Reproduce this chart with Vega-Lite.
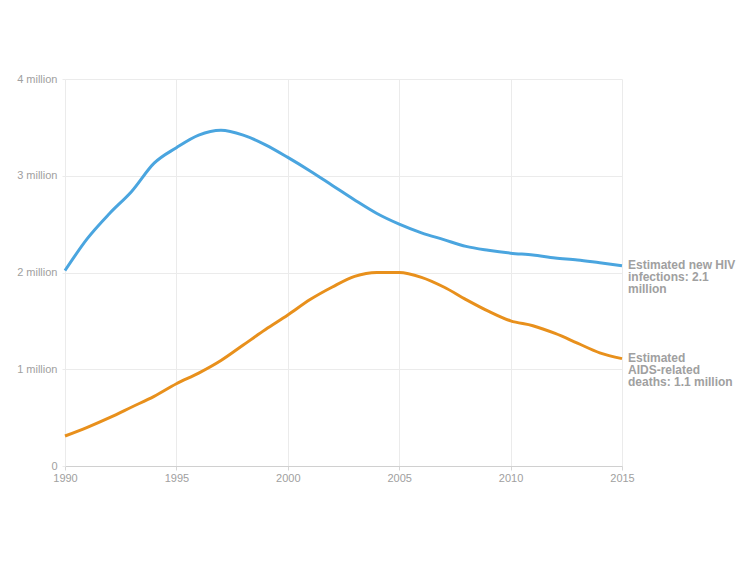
{
  "$schema": "https://vega.github.io/schema/vega-lite/v6.json",
  "width": 557,
  "height": 387,
  "autosize": {"type": "none"},
  "padding": {"left": 65, "top": 79, "right": 128, "bottom": 97},
  "background": "white",
  "config": {
    "view": {"stroke": null},
    "font": "Liberation Sans",
    "axis": {
      "labelFont": "Liberation Sans",
      "labelFontSize": 11,
      "labelColor": "#a0a0a0",
      "gridColor": "#ebebeb",
      "gridWidth": 1,
      "domain": false,
      "tickColor": "#d6d6d6",
      "title": null
    }
  },
  "data": {
    "values": [
      {"year": 1990, "series": "hiv", "value": 2.02},
      {"year": 1991, "series": "hiv", "value": 2.35},
      {"year": 1992, "series": "hiv", "value": 2.61},
      {"year": 1993, "series": "hiv", "value": 2.84},
      {"year": 1994, "series": "hiv", "value": 3.13},
      {"year": 1995, "series": "hiv", "value": 3.29},
      {"year": 1996, "series": "hiv", "value": 3.42},
      {"year": 1997, "series": "hiv", "value": 3.47},
      {"year": 1998, "series": "hiv", "value": 3.42},
      {"year": 1999, "series": "hiv", "value": 3.32},
      {"year": 2000, "series": "hiv", "value": 3.19},
      {"year": 2001, "series": "hiv", "value": 3.05},
      {"year": 2002, "series": "hiv", "value": 2.9},
      {"year": 2003, "series": "hiv", "value": 2.75},
      {"year": 2004, "series": "hiv", "value": 2.61},
      {"year": 2005, "series": "hiv", "value": 2.5},
      {"year": 2006, "series": "hiv", "value": 2.41},
      {"year": 2007, "series": "hiv", "value": 2.34},
      {"year": 2008, "series": "hiv", "value": 2.27},
      {"year": 2009, "series": "hiv", "value": 2.23},
      {"year": 2010, "series": "hiv", "value": 2.2},
      {"year": 2011, "series": "hiv", "value": 2.18},
      {"year": 2012, "series": "hiv", "value": 2.15},
      {"year": 2013, "series": "hiv", "value": 2.13},
      {"year": 2014, "series": "hiv", "value": 2.1},
      {"year": 2015, "series": "hiv", "value": 2.07},
      {"year": 1990, "series": "aids", "value": 0.31},
      {"year": 1991, "series": "aids", "value": 0.4},
      {"year": 1992, "series": "aids", "value": 0.5},
      {"year": 1993, "series": "aids", "value": 0.61},
      {"year": 1994, "series": "aids", "value": 0.72},
      {"year": 1995, "series": "aids", "value": 0.85},
      {"year": 1996, "series": "aids", "value": 0.96},
      {"year": 1997, "series": "aids", "value": 1.09},
      {"year": 1998, "series": "aids", "value": 1.25},
      {"year": 1999, "series": "aids", "value": 1.41},
      {"year": 2000, "series": "aids", "value": 1.56},
      {"year": 2001, "series": "aids", "value": 1.72},
      {"year": 2002, "series": "aids", "value": 1.85},
      {"year": 2003, "series": "aids", "value": 1.96},
      {"year": 2004, "series": "aids", "value": 2.0},
      {"year": 2005, "series": "aids", "value": 2.0},
      {"year": 2006, "series": "aids", "value": 1.95},
      {"year": 2007, "series": "aids", "value": 1.85},
      {"year": 2008, "series": "aids", "value": 1.72},
      {"year": 2009, "series": "aids", "value": 1.6},
      {"year": 2010, "series": "aids", "value": 1.5},
      {"year": 2011, "series": "aids", "value": 1.45},
      {"year": 2012, "series": "aids", "value": 1.37},
      {"year": 2013, "series": "aids", "value": 1.27},
      {"year": 2014, "series": "aids", "value": 1.17},
      {"year": 2015, "series": "aids", "value": 1.11}
    ]
  },
  "encoding": {
    "x": {
      "field": "year",
      "type": "quantitative",
      "scale": {"domain": [1990, 2015], "nice": false, "zero": false},
      "axis": {
        "values": [1990, 1995, 2000, 2005, 2010, 2015],
        "format": "d",
        "tickSize": 4,
        "labelPadding": 2,
        "labelFlush": false,
        "domain": true,
        "domainColor": "#d0d0d0"
      }
    },
    "y": {
      "field": "value",
      "type": "quantitative",
      "scale": {"domain": [0, 4], "nice": false},
      "axis": {
        "values": [0, 1, 2, 3, 4],
        "labelExpr": "datum.value == 0 ? '0' : datum.value + ' million'",
        "tickSize": 3,
        "tickColor": "#ebebeb",
        "labelPadding": 5
      }
    },
    "color": {
      "field": "series",
      "type": "nominal",
      "scale": {"domain": ["hiv", "aids"], "range": ["#4aa5df", "#e8901c"]},
      "legend": null
    }
  },
  "layer": [
    {
      "mark": {"type": "line", "strokeWidth": 3, "interpolate": "monotone"}
    },
    {
      "transform": [
        {"filter": "datum.year == 2015"},
        {"calculate": "datum.series == 'hiv' ? ['Estimated new HIV', 'infections: 2.1', 'million'] : ['Estimated', 'AIDS-related', 'deaths: 1.1 million']", "as": "label"}
      ],
      "mark": {
        "type": "text",
        "align": "left",
        "baseline": "top",
        "dx": 6,
        "dy": -6,
        "fontSize": 12,
        "fontWeight": "bold",
        "lineHeight": 12,
        "color": "#a0a0a0"
      },
      "encoding": {
        "text": {"field": "label"},
        "color": {"value": "#a0a0a0"}
      }
    }
  ]
}
